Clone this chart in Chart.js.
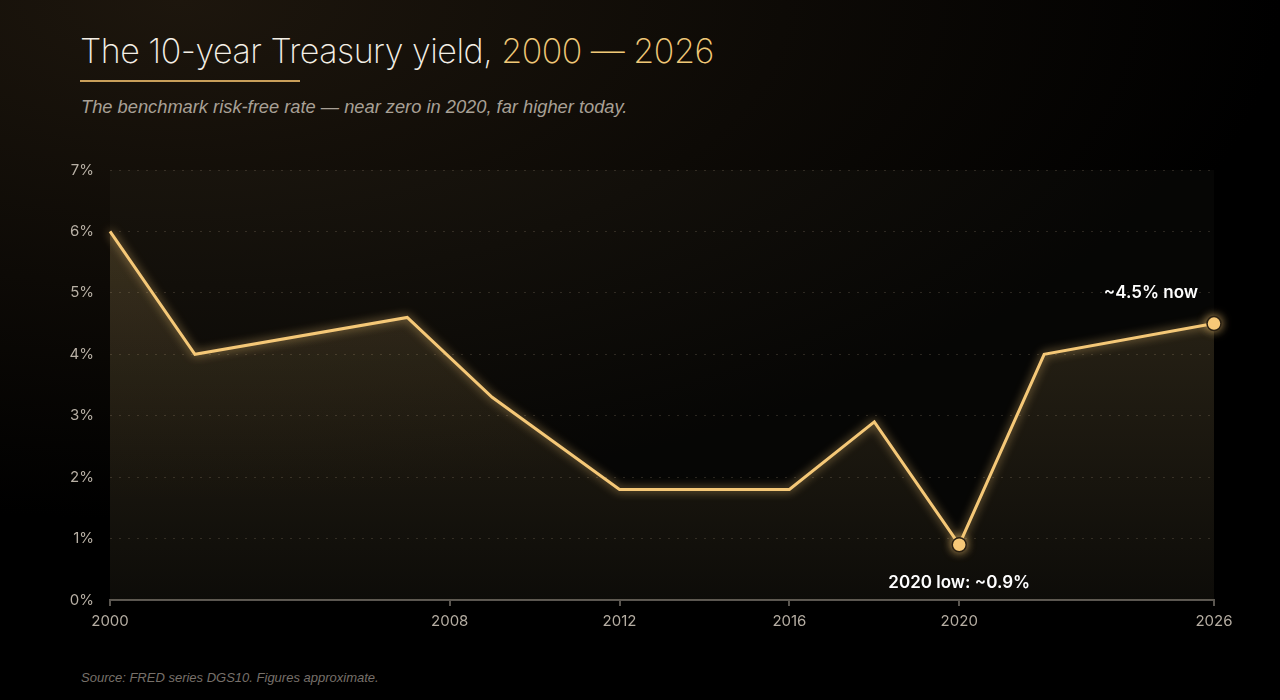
<!DOCTYPE html>
<html><head><meta charset="utf-8">
<script src="https://cdn.jsdelivr.net/npm/chart.js@4"></script>
<style>
html,body{margin:0;padding:0;width:1280px;height:700px;overflow:hidden;background:#000;}
#bg{position:absolute;left:0;top:0;width:1280px;height:700px;
background:radial-gradient(ellipse 1100px 520px at 180px 0px, #1d160d 0%, #0d0a06 55%, #000 100%);}
#title{position:absolute;left:80px;top:30px;font-family:Inter,"Open Sans",sans-serif;font-weight:250;font-size:34px;color:#f4efe6;letter-spacing:-0.5px;white-space:nowrap;}
#title span{color:#f0c877;}
#rule{position:absolute;left:80px;top:80px;width:220px;height:2px;background:#c99f5a;}
#sub{position:absolute;left:81px;top:96px;font-family:"Liberation Sans",Arial,sans-serif;font-style:italic;font-size:18.3px;color:#a8a096;}
#src{position:absolute;left:81px;top:670px;font-family:"Liberation Sans",Arial,sans-serif;font-style:italic;font-size:13px;color:#77706a;}
canvas{position:absolute;left:0;top:0;}
</style></head>
<body>
<div id="bg"></div>
<div id="title">The 10-year Treasury yield, <span>2000 — 2026</span></div>
<div id="rule"></div>
<div id="sub">The benchmark risk-free rate — near zero in 2020, far higher today.</div>
<div id="src">Source: FRED series DGS10. Figures approximate.</div>
<canvas id="c" width="1280" height="700"></canvas>
<script>
const years = [2000, 2002, 2007, 2009, 2012, 2016, 2018, 2020, 2022, 2026];
const yields = [6.0, 4.0, 4.6, 3.3, 1.8, 1.8, 2.9, 0.9, 4.0, 4.5];
const xTicks = [2000, 2008, 2012, 2016, 2020, 2026];
const yTicks = [0, 1, 2, 3, 4, 5, 6, 7];
const callouts = [
  {year: 2020, value: 0.9, text: "2020 low: ~0.9%", where: "below"},
  {year: 2026, value: 4.5, text: "~4.5% now", where: "above"}
];
const highlightYears = callouts.map(c => c.year);

const gold = "#f5c877";

const areaBg = {
  id: "areaBg",
  beforeDraw(chart) {
    const {ctx, chartArea: a} = chart;
    ctx.save();
    ctx.fillStyle = "rgba(255,235,200,0.022)";
    ctx.fillRect(a.left, a.top, a.right - a.left, a.bottom - a.top);
    ctx.restore();
  }
};
const glow = {
  id: "glow",
  beforeDatasetDraw(chart) {
    const ctx = chart.ctx;
    ctx.save();
    ctx.shadowColor = "rgba(245,200,119,0.75)";
    ctx.shadowBlur = 10;
  },
  afterDatasetDraw(chart) { chart.ctx.restore(); }
};
const labels = {
  id: "labels",
  afterDatasetsDraw(chart) {
    const {ctx, scales: {x, y}} = chart;
    ctx.save();
    ctx.font = "600 17px Inter, sans-serif";
    ctx.fillStyle = "#ffffff";
    ctx.textAlign = "center";
    ctx.textBaseline = "middle";
    callouts.forEach(c => {
      let px = x.getPixelForValue(c.year), py = y.getPixelForValue(c.value);
      if (c.where === "below") { ctx.fillText(c.text, px, py + 38); }
      else { ctx.fillText(c.text, px - 63, py - 31); }
    });
    ctx.restore();
  }
};

new Chart(document.getElementById("c"), {
  type: "line",
  data: {
    datasets: [{
      data: years.map((yr, i) => ({x: yr, y: yields[i]})),
      borderColor: gold,
      borderWidth: 3,
      tension: 0,
      clip: false,
      fill: "origin",
      backgroundColor: (ctx) => {
        const a = ctx.chart.chartArea;
        if (!a) return "rgba(240,200,120,0.1)";
        const g = ctx.chart.ctx.createLinearGradient(0, a.top + 60, 0, a.bottom);
        g.addColorStop(0, "rgba(240,200,120,0.17)");
        g.addColorStop(1, "rgba(240,200,120,0.03)");
        return g;
      },
      pointRadius: (ctx) => highlightYears.includes(ctx.raw && ctx.raw.x) ? 7 : 0,
      pointHoverRadius: 0,
      pointBackgroundColor: "#f7c978",
      pointBorderColor: "#2a2012",
      pointBorderWidth: 1.5
    }]
  },
  options: {
    responsive: false,
    animation: false,
    events: [],
    layout: {padding: {left: 0, right: 66, top: 170, bottom: 60}},
    plugins: {legend: {display: false}, tooltip: {enabled: false}},
    scales: {
      x: {
        type: "linear", min: 2000, max: 2026,
        afterBuildTicks: (s) => { s.ticks = xTicks.map(v => ({value: v})); },
        afterFit: (s) => { s.height = 40; },
        ticks: {color: "#b5ada2", font: {family: "Inter, sans-serif", size: 15}, padding: 6, maxRotation: 0,
          callback: (v) => String(v)},
        grid: {display: true, drawOnChartArea: false, drawTicks: true, tickLength: 6, color: "#5a5650", lineWidth: 2},
        border: {display: true, color: "#5a5650", width: 2}
      },
      y: {
        min: 0, max: 7,
        afterBuildTicks: (s) => { s.ticks = yTicks.map(v => ({value: v})); },
        afterFit: (s) => { s.width = 110; },
        ticks: {color: "#b8b0a5", font: {family: "Inter, sans-serif", size: 15}, padding: 16,
          callback: (v) => v + "%"},
        grid: {color: "rgba(190,170,140,0.2)", lineWidth: 1, drawTicks: false},
        border: {display: false, dash: [2, 7]}
      }
    }
  },
  plugins: [areaBg, glow, labels]
});
</script>
</body></html>
